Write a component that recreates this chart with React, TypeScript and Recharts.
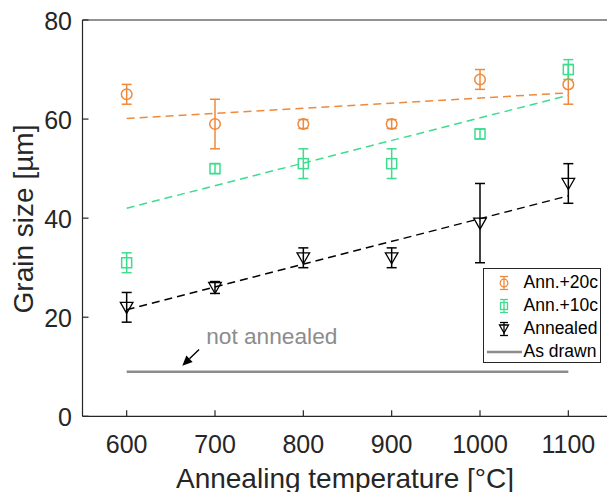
import React from 'react';
import {
  ComposedChart,
  Scatter,
  Line,
  XAxis,
  YAxis,
  ErrorBar,
  ReferenceLine,
  ReferenceDot,
  Legend,
} from 'recharts';

// annealing temperatures [°C]
const temps = [600, 700, 800, 900, 1000, 1100];
const xTicks = [600, 700, 800, 900, 1000, 1100];
const yTicks = [0, 20, 40, 60, 80];

// grain size [µm] with error
const ann20 = [65, 59, 59, 59, 68, 67];
const ann20Err = [2, 5, 0.9, 0.9, 2, 4];
const ann10 = [31, 50, 51, 51, 57, 70];
const ann10Err = [2, 1, 3, 3, 1, 2];
const annealed = [22, 26, 32, 32, 39, 47];
const annealedErr = [3, 1.2, 2, 2, 8, 4];

// linear fits, drawn between the end temperatures
const fitTemps = [600, 1100];
const ann20Fit = [60.1, 65.3];
const ann10Fit = [42, 64.8];
const annealedFit = [21.5, 44.5];
const asDrawn = [9, 9];

// "not annealed" note: arrow tail -> tip, text anchor
const arrowTail = { t: 682, v: 13.5 };
const arrowTip = { t: 663, v: 10.2 };
const noteAt = { t: 690, v: 14.6 };

const ORANGE = '#EF8A3C';
const GREEN = '#3EDC8E';
const BLACK = '#000000';
const GRAY = '#8C8C8C';
const AXIS = '#262626';
const FONT = '"Liberation Sans", Arial, Helvetica, sans-serif';

const points = (vals: number[], errs: number[]) =>
  temps.map((t, i) => ({ t, v: vals[i], err: errs[i] }));
const fit = (vals: number[]) => fitTemps.map((t, i) => ({ t, v: vals[i] }));

const legendItems = [
  { name: 'Ann.+20c', color: ORANGE, marker: 'circle' },
  { name: 'Ann.+10c', color: GREEN, marker: 'square' },
  { name: 'Annealed', color: BLACK, marker: 'triangle' },
  { name: 'As drawn', color: GRAY, marker: 'line' },
];

const Circle = (p: any) => (
  <circle cx={p.cx} cy={p.cy} r={5.3} fill="none" stroke={ORANGE} strokeWidth={1.5} />
);
const Square = (p: any) => (
  <rect x={p.cx - 5} y={p.cy - 5} width={10} height={10} fill="none" stroke={GREEN} strokeWidth={1.5} />
);
const Triangle = (p: any) => (
  <polygon
    points={`${p.cx - 6.3},${p.cy - 5} ${p.cx + 6.3},${p.cy - 5} ${p.cx},${p.cy + 6}`}
    fill="none"
    stroke={BLACK}
    strokeWidth={1.3}
  />
);

const BottomTick = (p: any) => (
  <g>
    <line x1={p.x} x2={p.x} y1={p.y} y2={p.y - 6} stroke={AXIS} strokeWidth={1.2} />
    <text x={p.x} y={p.y + 36.4} textAnchor="middle" fontFamily={FONT} fontSize={25} fill={AXIS}>
      {p.payload.value}
    </text>
  </g>
);
const TopTick = (p: any) => (
  <line x1={p.x} x2={p.x} y1={p.y} y2={p.y + 6} stroke={AXIS} strokeWidth={1.2} />
);
const LeftTick = (p: any) => (
  <g>
    <line x1={p.x} x2={p.x + 6} y1={p.y} y2={p.y} stroke={AXIS} strokeWidth={1.2} />
    <text x={p.x - 10.5} y={p.y + 9.5} textAnchor="end" fontFamily={FONT} fontSize={25} fill={AXIS}>
      {p.payload.value}
    </text>
  </g>
);
const RightTick = (p: any) => (
  <line x1={p.x} x2={p.x - 6} y1={p.y} y2={p.y} stroke={AXIS} strokeWidth={1.2} />
);

const Arrow = (p: any) => {
  const { x1, y1, x2, y2 } = p;
  const ang = Math.atan2(y2 - y1, x2 - x1);
  const L = 10;
  const W = 4.5;
  const bx = x2 - L * Math.cos(ang);
  const by = y2 - L * Math.sin(ang);
  const nx = -Math.sin(ang) * W;
  const ny = Math.cos(ang) * W;
  return (
    <g>
      <line x1={x1} y1={y1} x2={bx} y2={by} stroke={BLACK} strokeWidth={1.4} />
      <polygon points={`${x2},${y2} ${bx + nx},${by + ny} ${bx - nx},${by - ny}`} fill={BLACK} />
    </g>
  );
};

const Note = (p: any) => (
  <text x={p.cx} y={p.cy} fontFamily={FONT} fontSize={22.7} fill={GRAY}>
    not annealed
  </text>
);

const LegendMarker = ({ kind, color }: { kind: string; color: string }) => (
  <svg width={40} height={20} style={{ display: 'block' }}>
    {kind === 'line' ? (
      <line x1={3} x2={38} y1={10} y2={10} stroke={color} strokeWidth={2.6} />
    ) : (
      <g stroke={color} strokeWidth={1.3} fill="none">
        <line x1={20} x2={20} y1={3.5} y2={16.5} />
        <line x1={16} x2={24} y1={3.5} y2={3.5} />
        <line x1={16} x2={24} y1={16.5} y2={16.5} />
        {kind === 'circle' && <circle cx={20} cy={10} r={3.8} />}
        {kind === 'square' && <rect x={16.5} y={6.5} width={7} height={7} />}
        {kind === 'triangle' && <polygon points="15.5,6 24.5,6 20,14" />}
      </g>
    )}
  </svg>
);

const LegendBox = () => (
  <div
    style={{
      width: 118,
      height: 95,
      boxSizing: 'border-box',
      border: `1.2px solid ${AXIS}`,
      background: '#fff',
      padding: '2px 0 0 0',
      fontFamily: FONT,
      fontSize: 17.5,
      color: '#000',
    }}
  >
    {legendItems.map((it) => (
      <div key={it.name} style={{ display: 'flex', alignItems: 'center', height: 23 }}>
        <div style={{ marginLeft: 0 }}>
          <LegendMarker kind={it.marker} color={it.color} />
        </div>
        <span style={{ lineHeight: '23px' }}>{it.name}</span>
      </div>
    ))}
  </div>
);

export default function App() {
  return (
    <div style={{ position: 'absolute', left: 0, top: 0, width: 607, height: 492, overflow: 'hidden', background: '#fff' }}>
      <ComposedChart
        width={640}
        height={492}
        margin={{ top: 19, right: 26.5, bottom: 74.7, left: 81.5 }}
      >
        <XAxis
          dataKey="t"
          type="number"
          domain={[550, 1150]}
          ticks={xTicks}
          height={1}
          tickSize={0}
          tickMargin={0}
          tick={<BottomTick />}
          axisLine={{ stroke: AXIS, strokeWidth: 1.2 }}
          tickLine={false}
          interval={0}
          label={{
            value: 'Annealing temperature [°C]',
            content: () => (
              <text x={345} y={488} textAnchor="middle" fontFamily={FONT} fontSize={28} fill={AXIS}>
                Annealing temperature [°C]
              </text>
            ),
          }}
        />
        <XAxis
          xAxisId="top"
          orientation="top"
          dataKey="t"
          type="number"
          domain={[550, 1150]}
          ticks={xTicks}
          height={1}
          tickSize={0}
          tickMargin={0}
          tick={<TopTick />}
          axisLine={{ stroke: AXIS, strokeWidth: 1.2 }}
          tickLine={false}
          interval={0}
        />
        <YAxis
          dataKey="v"
          type="number"
          domain={[0, 80]}
          ticks={yTicks}
          width={1}
          tickSize={0}
          tickMargin={0}
          tick={<LeftTick />}
          axisLine={{ stroke: AXIS, strokeWidth: 1.2 }}
          tickLine={false}
          interval={0}
          label={{
            value: 'Grain size [µm]',
            content: () => (
              <text
                x={33}
                y={219}
                transform="rotate(-90 33 219)"
                textAnchor="middle"
                fontFamily={FONT}
                fontSize={28}
                fill={AXIS}
              >
                Grain size [µm]
              </text>
            ),
          }}
        />
        <YAxis
          yAxisId="right"
          orientation="right"
          type="number"
          domain={[0, 80]}
          ticks={yTicks}
          width={1}
          tickSize={0}
          tickMargin={0}
          tick={<RightTick />}
          axisLine={{ stroke: AXIS, strokeWidth: 1.2 }}
          tickLine={false}
          interval={0}
        />

        <Line data={fit(ann20Fit)} dataKey="v" stroke={ORANGE} strokeWidth={1.5} strokeDasharray="8 5" dot={false} isAnimationActive={false} />
        <Line data={fit(ann10Fit)} dataKey="v" stroke={GREEN} strokeWidth={1.5} strokeDasharray="8 5" dot={false} isAnimationActive={false} />
        <Line data={fit(annealedFit)} dataKey="v" stroke={BLACK} strokeWidth={1.5} strokeDasharray="8 5" dot={false} isAnimationActive={false} />
        <Line data={fit(asDrawn)} dataKey="v" stroke={GRAY} strokeWidth={2.4} dot={false} isAnimationActive={false} />

        <Scatter name="Ann.+20c" data={points(ann20, ann20Err)} dataKey="v" shape={<Circle />} isAnimationActive={false}>
          <ErrorBar dataKey="err" direction="y" width={5} stroke={ORANGE} strokeWidth={1.5} />
        </Scatter>
        <Scatter name="Ann.+10c" data={points(ann10, ann10Err)} dataKey="v" shape={<Square />} isAnimationActive={false}>
          <ErrorBar dataKey="err" direction="y" width={5} stroke={GREEN} strokeWidth={1.5} />
        </Scatter>
        <Scatter name="Annealed" data={points(annealed, annealedErr)} dataKey="v" shape={<Triangle />} isAnimationActive={false}>
          <ErrorBar dataKey="err" direction="y" width={5} stroke={BLACK} strokeWidth={1.5} />
        </Scatter>

        <ReferenceLine
          segment={[
            { x: arrowTail.t, y: arrowTail.v },
            { x: arrowTip.t, y: arrowTip.v },
          ]}
          shape={(p: any) => <Arrow {...p} />}
        />
        <ReferenceDot x={noteAt.t} y={noteAt.v} r={0} shape={(p: any) => <Note {...p} />} />

        <Legend
          layout="vertical"
          align="center"
          verticalAlign="middle"
          wrapperStyle={{ left: 482.5, top: 268, width: 118, height: 95 }}
          content={() => <LegendBox />}
        />
      </ComposedChart>
    </div>
  );
}
